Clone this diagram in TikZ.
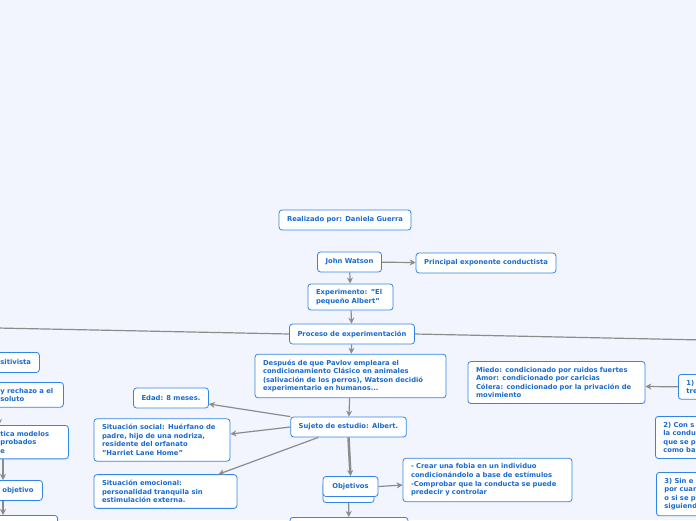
\documentclass[tikz,border=0pt]{standalone}
\usepackage{fontspec}
\setmainfont{DejaVu Sans}
\usepackage{tikz}
\usetikzlibrary{arrows.meta, positioning}

\definecolor{mapbg}{HTML}{F2F5FD}
\definecolor{mapblue}{HTML}{2F86E8}
\definecolor{maptext}{HTML}{1A6BCF}
\definecolor{mapline}{HTML}{8C8C8C}

\begin{document}
\begin{tikzpicture}[
    x=1pt, y=-1pt,
    >={Stealth[length=6pt,width=6pt]},
    topic/.style={rectangle, draw=mapblue, line width=0.8pt, rounded corners=3pt, fill=white,
                  text=maptext, font=\fontsize{6.8}{8.6}\selectfont\bfseries,
                  inner xsep=8pt, inner ysep=5.5pt, minimum height=20pt},
    multi/.style={topic, align=left},
    link/.style={->, draw=mapline, line width=1.2pt},
    branch/.style={draw=mapline, line width=1.2pt}
]
\useasboundingbox (0,0) rectangle (696,520);
\fill[mapbg] (0,0) rectangle (696,520);
\clip (0,0) rectangle (696,520);

% centre column
\node[topic] (autora) at (345,220) {Realizado por: Daniela Guerra};
\node[topic] (watson) at (349.5,262) {John Watson};
\node[topic] (exponente) at (486,263) {Principal exponente conductista};
\node[multi, text width=69pt] (experimento) at (350.5,297) {Experimento: "El\\pequeño Albert"};
\node[topic] (proceso) at (352,334) {Proceso de experimentación};
\node[multi, text width=175pt] (pavlov) at (350.5,376) {Después de que Pavlov empleara el\\condicionamiento Clásico en animales\\(salivación de los perros), Watson decidió\\experimentario en humanos...};
\node[topic] (sujeto) at (348.5,427) {Sujeto de estudio: Albert.};
\node[topic] (edad) at (171,398) {Edad: 8 meses.};
\node[multi, text width=120pt] (social) at (162,440) {Situación social: Huérfano de\\padre, hijo de una nodriza,\\residente del orfanato\\"Harriet Lane Home"};
\node[multi, text width=127pt] (emocional) at (165.5,491.5) {Situación emocional:\\personalidad tranquila sin\\estimulación externa.};
\node[topic, minimum width=51pt] (objetivosfondo) at (348.5,492.5) {};
\node[topic, minimum width=55pt] (objetivos) at (350.5,486.5) {Objetivos};
\node[multi, text width=153pt] (fobia) at (487.5,480) {- Crear una fobia en un individuo\\condicionándolo a base de estímulos\\-Comprobar que la conducta se puede\\predecir y controlar};
\node[topic, minimum width=118pt, minimum height=30pt, anchor=north] (siguiente) at (349,517) {};

% right column
\node[multi, text width=161pt] (emociones) at (556.5,382.5) {Miedo: condicionado por ruidos fuertes\\Amor: condicionado por caricias\\Cólera: condicionado por la privación de\\movimiento};
\node[multi, text width=80pt, anchor=north west] (paso1) at (678,374) {1)\\tre};
\node[multi, text width=80pt, anchor=north west] (paso2) at (655,416) {2) Con s\\la condu\\que se p\\como ba};
\node[multi, text width=80pt, anchor=north west] (paso3) at (656,472) {3) Sin e\\por cuan\\o si se p\\siguiend};

% left column
\node[multi, text width=31pt, anchor=north west] (positivista) at (-8,352) {sitivista};
\node[multi, text width=55pt, anchor=north west] (rechazo) at (-8,382) {y rechazo a el\\soluto};
\node[multi, text width=60pt, anchor=north west] (practica) at (-8,425) {tica modelos\\probados\\e};
\node[multi, text width=32pt, anchor=north west] (objetivo) at (-6,480) {objetivo};
\node[topic, minimum width=80pt, minimum height=30pt, anchor=north east] (ultimo) at (58,515) {};

\coordinate (ramaizq) at (-100,326);
\coordinate (ramader) at (800,342);
\coordinate (izq) at (3,0);
\coordinate (izqfuera) at (-1,0);

% connectors
\draw[link] (watson) -- (exponente);
\draw[link] (watson) -- (experimento);
\draw[link] (experimento) -- (proceso);
\draw[branch] (proceso.west) -- (ramaizq);
\draw[branch] (proceso.east) -- (ramader);
\draw[link] (proceso) -- (pavlov);
\draw[link] (pavlov) -- (sujeto);
\draw[link] (sujeto.north west) -- ([yshift=-6pt]edad.east);
\draw[link] (sujeto.west) -- ([yshift=6pt]social.east);
\draw[link] ([xshift=28pt]sujeto.south west) -- ([xshift=-19pt]emocional.north east);
\draw[link, line width=2.5pt] (sujeto.south) -- (objetivos.north);
\draw[link] (objetivos.east) -- ([yshift=-5pt]fobia.west);
\draw[link] (objetivosfondo) -- (siguiente);
\draw[link] (paso1.west) -- ([yshift=-4pt]emociones.east);
\draw[link] (izqfuera |- rechazo.south) -- (izqfuera |- practica.north);
\draw[link] (izq |- practica.south) -- (izq |- objetivo.north);
\draw[link] (izq |- objetivo.south) -- (izq |- ultimo.north);
\end{tikzpicture}
\end{document}
